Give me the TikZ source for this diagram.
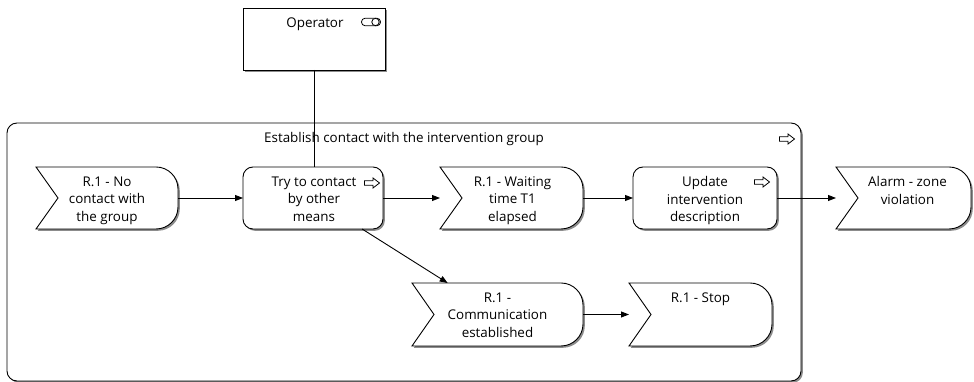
\documentclass[tikz,border=0pt]{standalone}
\usepackage{fontspec}
\setmainfont{Open Sans}
\usetikzlibrary{arrows.meta,shadows,calc}

% event outline: notched left side, rounded right side
\newcommand\eventshape[1]{%
  \draw[boxshadow,fill=white]
    (#1.north west) -- ([xshift=-22pt]#1.north east)
    arc[start angle=90,end angle=0,radius=22pt]
    -- ([yshift=22pt]#1.south east)
    arc[start angle=0,end angle=-90,radius=22pt]
    -- (#1.south west) -- ([xshift=22pt]#1.west) -- cycle;}

\tikzset{
  boxshadow/.style={drop shadow={shadow xshift=1.8pt,shadow yshift=-1.8pt,fill=black!45,opacity=1}},
  frame/.style={inner sep=0pt,outer sep=0pt,minimum height=62pt},
  taskbox/.style={frame,draw,fill=white,rounded corners=10pt,boxshadow},
  txtfont/.style={font=\fontsize{13.4}{17.6}\selectfont},
  lbl/.style={txtfont,align=center,inner sep=0pt,anchor=north},
  flow/.style={-{Triangle[length=8pt,width=6pt]}},
  pics/blockarrow/.style={code={
    \draw[line width=0.8pt,fill=white]
      (-7.5,-2.2) -- (1,-2.2) -- (1,-5) -- (7.5,0) -- (1,5) -- (1,2.2) -- (-7.5,2.2) -- cycle;}},
  pics/roleicon/.style={code={
    \draw[line width=0.8pt,rounded corners=3.5pt] (-9.5,-3.7) rectangle (9.5,3.7);
    \draw[line width=0.8pt,fill=white] (4.5,0) circle[radius=3.7pt];}},
}

\begin{document}
\begin{tikzpicture}[x=1pt,y=1pt,line width=0.9pt]
\path[use as bounding box] (0,0) rectangle (974,382);

% process group
\node[frame,draw,fill=white,rounded corners=10pt,boxshadow,
      minimum width=794pt,minimum height=258pt] (grp) at (404,130) {};
\node[lbl] (grp-l) at ([yshift=-9pt]grp.north)
  {Establish contact with the intervention group};
\pic (grp-i) at ([xshift=-14pt,yshift=-16pt]grp.north east) {blockarrow};

% role
\node[frame,draw,fill=white,boxshadow,minimum width=142pt] (op) at (314,343) {};
\node[lbl] (op-l) at ([xshift=1pt,yshift=-9pt]op.north) {Operator};
\pic (op-i) at ([xshift=-14pt,yshift=-14pt]op.north east) {roleicon};

% events and tasks
\node[frame,minimum width=142pt] (e1) at (107,184) {};
\eventshape{e1}
\node[lbl] (e1-l) at ([yshift=-9pt]e1.north) {R.1 - No\\contact with\\the group};

\node[taskbox,minimum width=140pt] (t1) at (313,184) {};
\node[lbl] (t1-l) at ([xshift=1pt,yshift=-9pt]t1.north) {Try to contact\\by other\\means};
\pic (t1-i) at ([xshift=-11pt,yshift=-16pt]t1.north east) {blockarrow};

\node[frame,minimum width=143pt] (e2) at (511.5,184) {};
\eventshape{e2}
\node[lbl] (e2-l) at ([xshift=1pt,yshift=-9pt]e2.north) {R.1 - Waiting\\time T1\\elapsed};

\node[taskbox,minimum width=144pt] (t2) at (705,184) {};
\node[lbl] (t2-l) at ([yshift=-9pt]t2.north) {Update\\intervention\\description};
\pic (t2-i) at ([xshift=-15pt,yshift=-15pt]t2.north east) {blockarrow};

\node[frame,minimum width=135pt] (e3) at (903.5,184) {};
\eventshape{e3}
\node[lbl] (e3-l) at ([xshift=4pt,yshift=-9pt]e3.north) {Alarm - zone\\violation};

\node[frame,minimum width=171pt,minimum height=63pt] (e4) at (497.5,67.5) {};
\eventshape{e4}
\node[lbl] (e4-l) at ([yshift=-9pt]e4.north) {R.1 -\\Communication\\established};

\node[frame,minimum width=143pt,minimum height=63pt] (e5) at (700.5,67.5) {};
\eventshape{e5}
\node[lbl] (e5-l) at ([yshift=-9pt]e5.north) {R.1 - Stop};

% connectors
\draw (op.south) -- (op.south |- t1.north);
\draw[flow] (e1) -- (t1);
\draw[flow] (t1) -- (e2);
\draw[flow] (e2) -- (t2);
\draw[flow] (t2) -- (e3);
\draw[flow] (t1) -- (e4);
\draw[flow] (e4) -- (e5);
\end{tikzpicture}
\end{document}
